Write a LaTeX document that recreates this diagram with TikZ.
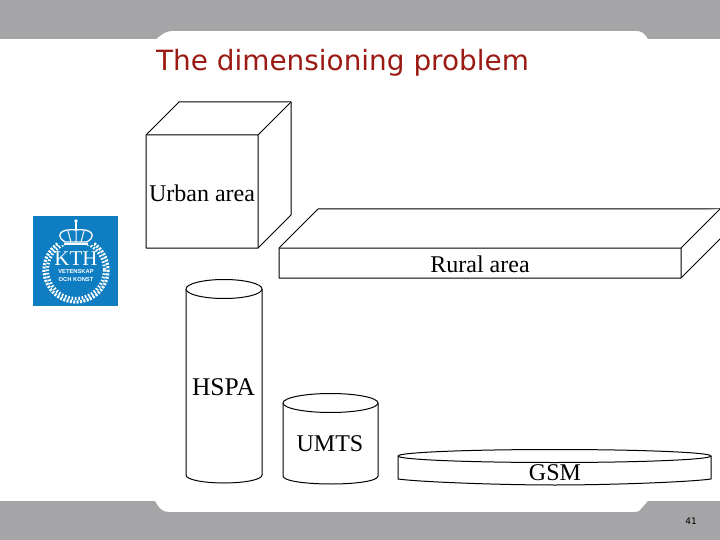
\documentclass[tikz,border=0pt]{standalone}
\usepackage{fontspec}
\setmainfont{Liberation Serif}
\newfontfamily\titlefont{DejaVu Sans}
\newfontfamily\logofont{Liberation Sans}
\definecolor{band}{HTML}{A5A4A7}
\definecolor{titlered}{HTML}{9B1B14}
\definecolor{kthblue}{HTML}{0F7DC2}
\tikzset{
  x=1pt,y=-1pt,
  shape3d/.style={draw=black,line width=1pt,line join=round,fill=white},
  lbl/.style={inner sep=0pt,font=\fontsize{24}{24}\selectfont,text=black},
  logotext/.style={inner sep=0pt,text=white}
}
\begin{document}
\begin{tikzpicture}
\useasboundingbox (0,0) rectangle (720,540);
\fill[white] (0,0) rectangle (720,540);
% frame bands
\fill[band] (0,0) -- (720,0) -- (720,39) -- (648,39) -- (646,36) .. controls (643,32) and (640,31) .. (636,31)
  -- (172,31) .. controls (166,31) and (162,34) .. (156,39) -- (0,39) -- cycle;
\fill[band] (0,540) -- (720,540) -- (720,501) -- (648,501) -- (641,509) .. controls (640,511) and (638,512) .. (635,512)
  -- (168,512) .. controls (162,512) and (158,507) .. (155,501) -- (0,501) -- cycle;
\node[anchor=base west,inner sep=0pt,text=titlered,font=\titlefont\fontsize{27.9}{30}\selectfont] (title) at (156,71) {The dimensioning problem};
\node[anchor=base,inner sep=0pt,font=\titlefont\fontsize{9}{9}\selectfont] (pagenum) at (691,524) {41};
% logo
\fill[kthblue] (33,216) rectangle (118,306);
\begin{scope}[white]
  \draw[line width=3.2pt,dash pattern=on 2pt off 1.4pt] (76,270) circle[radius=32];
  \draw[line width=3.2pt,dash pattern=on 1.6pt off 1.8pt] (76,270) circle[radius=28.5];
  \fill[kthblue] (58,232) rectangle (94,245);
  \draw[line width=1.3pt] (65,242) .. controls (55,236) and (60,228) .. (76,230) .. controls (92,228) and (97,236) .. (87,242) -- cycle;
  \draw[line width=1pt] (71,242) -- (68,231) (76,242) -- (76,229) (81,242) -- (84,231);
  \draw[line width=1.6pt] (64,244) -- (88,244);
  \fill (76,221) circle[radius=1.8];
  \draw[line width=1.2pt] (76,222) -- (76,230);
\end{scope}
\node[logotext,font=\fontsize{21}{21}\selectfont] (kth) at (76,259) {KTH};
\node[logotext,font=\logofont\bfseries\fontsize{5.8}{6}\selectfont] (vet) at (76,272) {VETENSKAP};
\node[logotext,font=\logofont\bfseries\fontsize{5.8}{6}\selectfont] (och) at (76,280) {OCH KONST};
% urban cube
\draw[shape3d] (146,135) -- (179,102) -- (291,102) -- (291,215) -- (258,248) -- (146,248) -- cycle;
\draw[shape3d] (146,135) -- (258,135) -- (291,102) (258,135) -- (258,248);
\node[lbl] (urban) at (202,193) {Urban area};
% rural box
\draw[shape3d] (279,248) -- (318,209) -- (725,209) -- (725,234) -- (681,278) -- (279,278) -- cycle;
\draw[shape3d] (279,248) -- (681,248) -- (720,209) (681,248) -- (681,278);
\node[lbl] (rural) at (480,264) {Rural area};
% HSPA
\draw[shape3d] (186,289) -- (186,475) .. controls (186,480) and (205,483) .. (224,483) .. controls (243,483) and (262,480) .. (262,475) -- (262,289);
\draw[shape3d] (224,289) ellipse[x radius=38,y radius=9.5];
\node[lbl,font=\fontsize{25.5}{25}\selectfont] (hspa) at (223.5,387) {HSPA};
% UMTS
\draw[shape3d] (283,403) -- (283,476) .. controls (283,481) and (306,484) .. (331,484) .. controls (356,484) and (378,481) .. (378,476) -- (378,403);
\draw[shape3d] (330.5,403) ellipse[x radius=47.5,y radius=9.5];
\node[lbl] (umts) at (330,444) {UMTS};
% GSM
\draw[shape3d] (398,456) -- (398,479) .. controls (420,482) and (500,485) .. (555,485) .. controls (610,485) and (690,482) .. (711,479) -- (711,456);
\draw[shape3d] (554.5,456) ellipse[x radius=156.5,y radius=6.5];
\node[lbl] (gsm) at (555,473) {GSM};
\end{tikzpicture}
\end{document}
